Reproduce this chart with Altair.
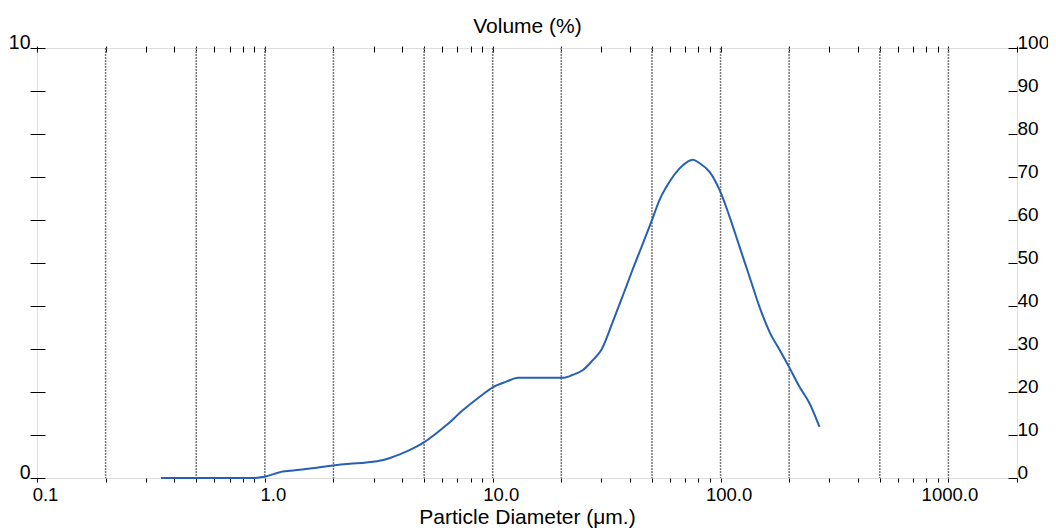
import altair as alt
import pandas as pd

# Particle diameter (um) and volume (%)
diam = [0.35, 0.6, 0.9, 0.99, 1.2, 1.42, 1.69, 1.99, 2.36, 2.79, 3.31, 3.91, 4.63, 5.03, 5.66,
        6.27, 7.41, 8.77, 10.0, 11.48, 12.91, 14.5, 17.0, 20.3, 22.5, 24.9, 27.5, 30.0, 33.7,
        37.3, 41.2, 45.6, 49.7, 54.0, 59.7, 66.1, 70.5, 75.6, 80.9, 89.5, 99.0, 109.5, 121.1,
        134.0, 148.2, 164.0, 181.5, 199.4, 222.0, 245.6, 271.8]
volume = [0.0, 0.0, 0.0, 0.03, 0.15, 0.19, 0.24, 0.29, 0.33, 0.36, 0.42, 0.55, 0.73, 0.84, 1.04,
          1.23, 1.58, 1.89, 2.11, 2.24, 2.33, 2.33, 2.33, 2.33, 2.40, 2.51, 2.74, 2.98, 3.64,
          4.25, 4.86, 5.45, 5.96, 6.47, 6.89, 7.20, 7.33, 7.40, 7.32, 7.12, 6.70, 6.08, 5.38,
          4.68, 3.98, 3.40, 2.98, 2.59, 2.12, 1.74, 1.19]

grid_vals = [0.2, 0.5, 1, 2, 5, 10, 20, 50, 100, 200, 500, 1000]
x_ticks = [m * 10 ** e for e in range(-1, 3) for m in range(1, 10)] + [1000, 2000]
x_ticks = [round(v, 6) for v in x_ticks]
decade_labels = [0.1, 1, 10, 100, 1000]
y_ticks = list(range(0, 11))

df = pd.DataFrame({"d": diam, "v": volume})
gdf = pd.DataFrame({"g": grid_vals})

FONT = "Liberation Sans"
xscale = alt.Scale(type="log", domain=[0.1, 2000], nice=False)
yscale = alt.Scale(domain=[0, 10], nice=False)

grid = alt.Chart(gdf).mark_rule(color="#787878", strokeDash=[2, 1], strokeWidth=1.5).encode(
    x=alt.X("g:Q", scale=xscale, axis=None)
)

line = alt.Chart(df).mark_line(color="#2660b4", strokeWidth=2, interpolate="monotone").encode(
    x=alt.X("d:Q", scale=xscale, axis=alt.Axis(
        orient="bottom", values=x_ticks, grid=False, domain=False,
        tickSize=4, tickColor="black", tickWidth=1,
        labelExpr="indexof([0.1, 1, 10, 100, 1000], datum.value) >= 0 ? format(datum.value, '.1f') : ''",
        labelOverlap=False, labelFlush=False, labelPadding=3,
        labelFont=FONT, labelFontSize=18.5, labelColor="black",
        labelOffset={"condition": {"test": "datum.value >= 1000", "value": 1}, "value": 8},
        title="Particle Diameter (μm.)", titleFont=FONT, titleFontSize=21,
        titleFontWeight="normal", titleColor="black", titleBaseline="alphabetic", titleY=45,
    )),
    y=alt.Y("v:Q", scale=yscale, axis=alt.Axis(
        orient="left", values=y_ticks, grid=False, domain=False,
        offset=-8, tickSize=15, tickColor="black", tickWidth=1,
        labelExpr="datum.value == 0 || datum.value == 10 ? datum.label : ''",
        labelBaseline="alphabetic", labelPadding=0, labelOverlap=False,
        labelFont=FONT, labelFontSize=19.5, labelColor="black", title=None,
    )),
)

overlay = alt.Chart(df).mark_line(opacity=0).encode(
    x=alt.X("d:Q", scale=xscale, axis=alt.Axis(
        orient="top", values=x_ticks, grid=False, domain=False, labels=False,
        offset=-4, tickSize=6, tickColor="black", tickWidth=1,
        title="Volume (%)", titleFont=FONT, titleFontSize=21, titleFontWeight="normal",
        titleColor="black", titleBaseline="alphabetic", titleY=-20,
    )),
    y=alt.Y("v:Q", scale=yscale, axis=alt.Axis(
        orient="right", values=y_ticks, grid=False, domain=False,
        offset=-9, tickSize=9, tickColor="black", tickWidth=1,
        labelExpr="format(datum.value * 10, 'd')",
        labelBaseline="alphabetic", labelPadding=0, labelOverlap=False,
        labelFont=FONT, labelFontSize=19, labelColor="black", title=None,
    )),
)

chart = alt.layer(grid, line, overlay).resolve_axis(
    x="independent", y="independent"
).properties(
    width=980, height=430,
    autosize=alt.AutoSizeParams(type="none"),
    padding={"left": 29, "top": 40, "right": 31, "bottom": 52},
).configure_view(stroke="black", strokeWidth=1.5).configure(background="white")

chart.save("out.html", embed_options={"renderer": "svg", "actions": False})
